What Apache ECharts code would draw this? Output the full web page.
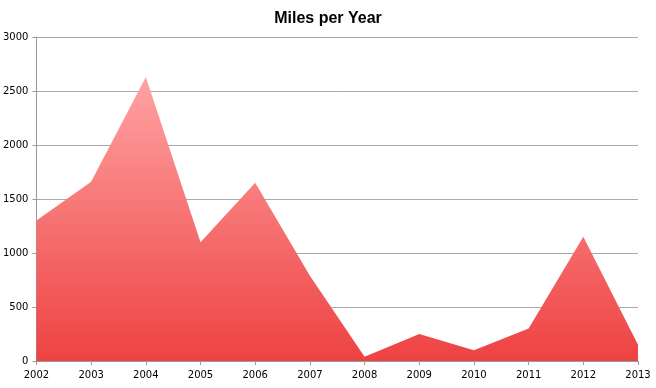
<!DOCTYPE html>
<html><head><meta charset="utf-8">
<script src="https://cdn.jsdelivr.net/npm/echarts@6/dist/echarts.min.js"></script>
<style>html,body{margin:0;padding:0;background:#fff}#c{width:656px;height:388px}</style>
</head><body><div id="c"></div>
<script>
var years = ['2002','2003','2004','2005','2006','2007','2008','2009','2010','2011','2012','2013'];
var miles = [1300, 1660, 2630, 1100, 1650, 790, 40, 250, 100, 300, 1150, 150];
var chart = echarts.init(document.getElementById('c'), null, {renderer:'canvas'});
chart.setOption({
  animation: false,
  backgroundColor: '#fff',
  title: {text: 'Miles per Year', left: 'center', top: 6,
    textStyle: {fontFamily: 'Liberation Sans', fontWeight: 'bold', fontSize: 16, color: '#000'}},
  grid: {left: 36, right: 18, top: 37, bottom: 27, containLabel: false},
  xAxis: {type: 'category', data: years, boundaryGap: false,
    axisLine: {lineStyle: {color: '#999', width: 1}},
    axisTick: {show: true, alignWithLabel: true, length: 4, lineStyle: {color: '#999'}},
    axisLabel: {color: '#000', fontFamily: 'DejaVu Sans', fontSize: 10, margin: 9, interval: 0},
    splitLine: {show: false}},
  yAxis: {type: 'value', min: 0, max: 3000, interval: 500,
    axisLine: {show: true, lineStyle: {color: '#999', width: 1}},
    axisTick: {show: true, length: 4, lineStyle: {color: '#999'}},
    axisLabel: {color: '#000', fontFamily: 'DejaVu Sans', fontSize: 10, margin: 8,
      formatter: function (v) { return String(v); }},
    splitLine: {lineStyle: {color: '#aaa', width: 1}}},
  series: [{type: 'line', data: miles, symbol: 'none', lineStyle: {width: 0},
    areaStyle: {opacity: 1, color: new echarts.graphic.LinearGradient(0, 77, 0, 361, [
      {offset: 0, color: '#ffa3a3'}, {offset: 1, color: '#ee4242'}], true)}}]
});
</script></body></html>
